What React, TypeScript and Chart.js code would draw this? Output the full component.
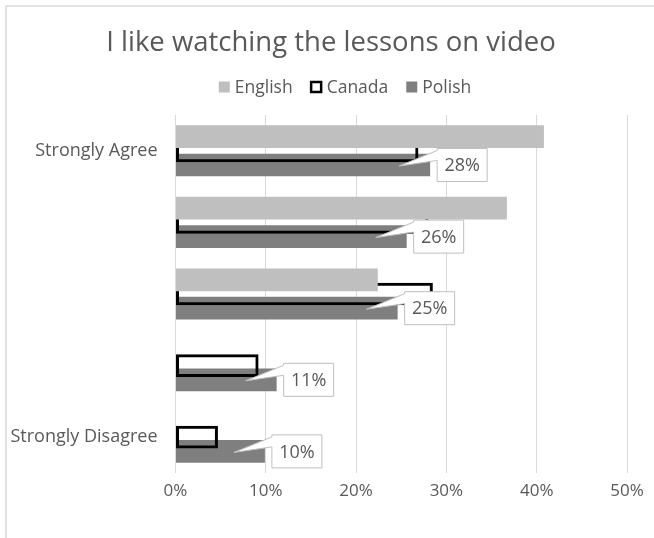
import React, { useEffect, useRef } from "react";
import { Chart, registerables } from "chart.js";

Chart.register(...registerables);

const chartTitle = "I like watching the lessons on video";
const categories = ["Strongly Agree", "Agree", "Neutral", "Disagree", "Strongly Disagree"];
const shownCategoryLabels = ["Strongly Agree", "", "", "", "Strongly Disagree"];
const seriesNames = ["English", "Canada", "Polish"];
const englishValues = [40.8, 36.7, 22.4, 0, 0];
const canadaValues = [26.9, 28, 28.5, 9.2, 4.7];
const polishValues = [28.2, 25.6, 24.6, 11.2, 9.9];
const polishLabels = ["28%", "26%", "25%", "11%", "10%"];
const xTickMax = 50;
const xTickStep = 10;

const FONT = "'Open Sans', sans-serif";
const TEXT = "#595959";
const ENGLISH_COLOR = "#bfbfbf";
const POLISH_COLOR = "#7f7f7f";

const decorPlugin = {
  id: "decor",
  beforeDraw(chart: any) {
    const { ctx, width, height } = chart;
    ctx.save();
    ctx.fillStyle = "#ffffff";
    ctx.fillRect(0, 0, width, height);
    // frame
    ctx.strokeStyle = "#d9d9d9";
    ctx.lineWidth = 1.5;
    ctx.beginPath();
    ctx.moveTo(6, height + 5);
    ctx.lineTo(6, 6);
    ctx.lineTo(width + 5, 6);
    ctx.stroke();
    // title
    ctx.fillStyle = TEXT;
    ctx.font = `27.5px ${FONT}`;
    ctx.textAlign = "center";
    ctx.textBaseline = "middle";
    ctx.fillText(chartTitle, 331, 43);
    // legend
    ctx.font = `17.5px ${FONT}`;
    const box = 11;
    const textGap = 5;
    const itemGap = 18;
    const widths = seriesNames.map((n) => ctx.measureText(n).width);
    const total = widths.reduce((a, w) => a + box + textGap + w, 0) + itemGap * (seriesNames.length - 1);
    let x = 345 - total / 2;
    const ly = 87;
    ctx.textAlign = "left";
    seriesNames.forEach((name, i) => {
      if (i === 0) {
        ctx.fillStyle = ENGLISH_COLOR;
        ctx.fillRect(x, ly - box / 2, box, box);
      } else if (i === 1) {
        ctx.fillStyle = "#ffffff";
        ctx.fillRect(x, ly - box / 2, box, box);
        ctx.strokeStyle = "#000000";
        ctx.lineWidth = 2.5;
        ctx.strokeRect(x + 0.5, ly - box / 2 + 0.5, box - 1, box - 1);
      } else {
        ctx.fillStyle = POLISH_COLOR;
        ctx.fillRect(x, ly - box / 2, box, box);
      }
      ctx.fillStyle = TEXT;
      ctx.fillText(name, x + box + textGap, ly + 1);
      x += box + textGap + widths[i] + itemGap;
    });
    ctx.restore();
  },
  afterDatasetsDraw(chart: any) {
    const { ctx } = chart;
    const meta = chart.getDatasetMeta(2);
    ctx.save();
    meta.data.forEach((bar: any, i: number) => {
      const x = bar.x;
      const y = bar.y;
      const bw = 50;
      const bh = 33;
      const bl = x + 7;
      const bt = y - bh / 2;
      const tipX = x - 31;
      const tipY = y + 1;
      ctx.beginPath();
      ctx.moveTo(bl, bt);
      ctx.lineTo(bl + bw, bt);
      ctx.lineTo(bl + bw, bt + bh);
      ctx.lineTo(bl, bt + bh);
      ctx.lineTo(bl, bt + 12);
      ctx.lineTo(tipX, tipY);
      ctx.lineTo(bl, bt + 2);
      ctx.closePath();
      ctx.fillStyle = "#ffffff";
      ctx.fill();
      ctx.strokeStyle = "#bfbfbf";
      ctx.lineWidth = 1;
      ctx.stroke();
      ctx.fillStyle = TEXT;
      ctx.font = `18px ${FONT}`;
      ctx.textAlign = "center";
      ctx.textBaseline = "middle";
      ctx.fillText(polishLabels[i], bl + bw / 2, bt + bh / 2 + 1);
    });
    ctx.restore();
  },
};

export default function App() {
  const canvasRef = useRef<HTMLCanvasElement | null>(null);

  useEffect(() => {
    if (!canvasRef.current) return;
    const chart = new Chart(canvasRef.current, {
      type: "bar",
      data: {
        labels: categories,
        datasets: [
          {
            label: seriesNames[0],
            data: englishValues,
            backgroundColor: ENGLISH_COLOR,
            borderWidth: 0,
          },
          {
            label: seriesNames[1],
            data: canadaValues,
            backgroundColor: "rgba(0,0,0,0)",
            borderColor: "#000000",
            borderWidth: 3,
            borderSkipped: false,
          },
          {
            label: seriesNames[2],
            data: polishValues,
            backgroundColor: POLISH_COLOR,
            borderWidth: 0,
          },
        ],
      },
      options: {
        indexAxis: "y",
        responsive: false,
        animation: false,
        events: [],
        categoryPercentage: 0.595,
        barPercentage: 1.6,
        layout: { padding: { top: 115, left: 0, right: 27, bottom: 25 } },
        plugins: {
          legend: { display: false },
          title: { display: false },
          tooltip: { enabled: false },
        },
        scales: {
          x: {
            min: 0,
            max: xTickMax,
            ticks: {
              stepSize: xTickStep,
              callback: (v: any) => `${v}%`,
              color: TEXT,
              font: { family: FONT, size: 17 },
              padding: 8,
            },
            grid: { color: "#d9d9d9", lineWidth: 1, drawTicks: false },
            border: { display: false },
            afterFit: (s: any) => {
              s.height = 40;
              s.paddingLeft = 0;
              s.paddingRight = 0;
            },
          },
          y: {
            ticks: {
              autoSkip: false,
              callback: (_v: any, i: number) => shownCategoryLabels[i],
              color: TEXT,
              font: { family: FONT, size: 18 },
              padding: 18,
            },
            grid: { display: false, drawTicks: false },
            border: { display: false },
            afterFit: (s: any) => {
              s.width = 175.5;
              s.paddingTop = 0;
              s.paddingBottom = 0;
            },
          },
        },
      },
      plugins: [decorPlugin],
    } as any);
    return () => chart.destroy();
  }, []);

  return (
    <div style={{ position: "fixed", left: 0, top: 0, width: 654, height: 538 }}>
      <canvas ref={canvasRef} width={654} height={538} style={{ display: "block" }} />
    </div>
  );
}
